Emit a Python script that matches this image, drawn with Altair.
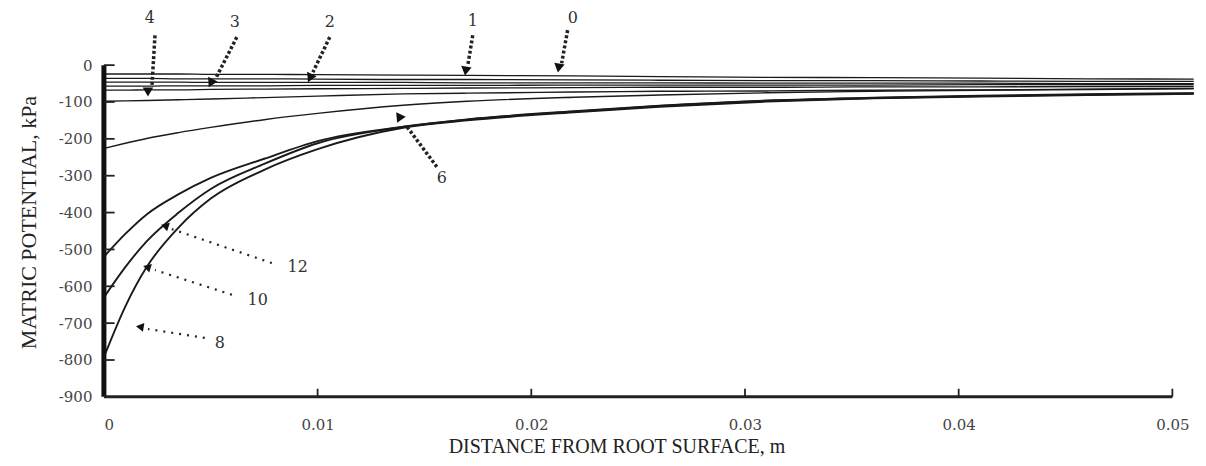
import altair as alt
import pandas as pd

# ---------------- data ----------------
x_vals = [0, 0.001, 0.002, 0.0035, 0.005, 0.0075, 0.01, 0.014, 0.017, 0.022,
          0.026, 0.031, 0.036, 0.041, 0.046, 0.051]

curve_0 = [-24, -24, -24, -24, -25, -25, -26, -27, -28, -29, -31, -33, -34, -35, -37, -38]
curve_1 = [-36, -36, -36, -37, -37, -37, -38, -39, -39, -40, -41, -42, -42, -43, -44, -44]
curve_2 = [-46, -46, -46, -46, -47, -47, -47, -47, -48, -48, -48, -49, -49, -49, -50, -50]
curve_3 = [-57, -57, -57, -56, -56, -56, -55, -55, -55, -54, -54, -54, -54, -53, -53, -53]
curve_3b = [-68, -68, -67, -67, -66, -65, -64, -63, -62, -61, -60, -60, -59, -59, -58, -58]
curve_4 = [-98, -97, -96, -94, -92, -88, -84, -78, -76, -73, -71, -70, -68, -67, -65, -63]
curve_6 = [-226, -212, -199, -183, -169, -148, -131, -109, -98, -87, -81, -75, -71, -68, -66, -64]
curve_8 = [-792, -655, -548, -440, -362, -284, -228, -170, -150, -128, -113, -99, -90, -85, -81, -78]
curve_10 = [-630, -548, -478, -400, -336, -268, -212, -168, -148, -126, -111, -97, -89, -84, -80, -77]
curve_12 = [-520, -458, -405, -350, -306, -254, -206, -167, -147, -125, -110, -96, -88, -83, -79, -76]

series_names = ["0", "1", "2", "3", "3b", "4", "6", "8", "10", "12"]
series_values = [curve_0, curve_1, curve_2, curve_3, curve_3b, curve_4,
                 curve_6, curve_8, curve_10, curve_12]
series_width = [1.3, 1.3, 1.3, 1.3, 1.3, 1.4, 1.4, 1.9, 1.9, 1.9]

x_ticks = [0, 0.01, 0.02, 0.03, 0.04, 0.05]
y_ticks = [-900, -800, -700, -600, -500, -400, -300, -200, -100, 0]

# annotation labels and dotted arrows (data units)
label_text = ["4", "3", "2", "1", "0", "6", "12", "10", "8"]
label_x = [0.00215, 0.00613, 0.01057, 0.01726, 0.02194, 0.01581, 0.00907, 0.0072, 0.00543]
label_y = [127, 117, 117, 119, 128, -306, -548, -637, -754]

arrow_x1 = [0.00239, 0.00622, 0.01057, 0.01726, 0.02170, 0.01558, 0.00786, 0.00599, 0.00472]
arrow_y1 = [81, 76, 76, 81, 95, -276, -537, -623, -740]
arrow_x2 = [0.00225, 0.00524, 0.00978, 0.01703, 0.02142, 0.01413, 0.00318, 0.00239, 0.00206]
arrow_y2 = [-54, -35, -19, 0, 5, -163, -445, -556, -716]
head_x = [0.00206, 0.0050, 0.00964, 0.01693, 0.02128, 0.0138, 0.00285, 0.00201, 0.00168]
head_y = [-73, -49, -35, -16, -8, -138, -436, -548, -710]
head_angle = [180, 207, 205, 189, 190, 325, 288, 287, 279]
arrow_bold = [True, True, True, True, True, True, False, False, False]

# ---------------- tables ----------------
rows = []
for name, vals, w in zip(series_names, series_values, series_width):
    for xv, yv in zip(x_vals, vals):
        rows.append({"series": name, "x": xv, "y": yv, "w": w})
df = pd.DataFrame(rows)

labels_df = pd.DataFrame({"t": label_text, "x": label_x, "y": label_y})
arrows_df = pd.DataFrame({"x1": arrow_x1, "y1": arrow_y1, "x2": arrow_x2, "y2": arrow_y2,
                          "hx": head_x, "hy": head_y, "ang": head_angle, "bold": arrow_bold})
bold_df = arrows_df[arrows_df["bold"]]
thin_df = arrows_df[~arrows_df["bold"]]

ytick_df = pd.DataFrame({"v": y_ticks[1:]})
xtick_df = pd.DataFrame({"v": x_ticks[1:]})
yaxis_df = pd.DataFrame({"x": [0], "y": [y_ticks[0]], "y2": [y_ticks[-1]]})
xaxis_df = pd.DataFrame({"x": [x_ticks[0]], "x2": [x_ticks[-1]], "y": [y_ticks[0]]})

XDOM = [0, 0.0512]
YDOM = [-900, 0]
xs = alt.Scale(domain=XDOM, nice=False, zero=False)
ys = alt.Scale(domain=YDOM, nice=False, zero=False)

LAB_FONT = "DejaVu Serif"
TITLE_FONT = "Liberation Serif"
INK = "#1a1a1a"

x_axis = alt.Axis(values=x_ticks, format="~g", domain=False, ticks=False, grid=False,
                  labelFont=LAB_FONT, labelFontSize=15, labelColor="#444", labelPadding=21,
                  title="DISTANCE FROM ROOT SURFACE, m", titleFont=TITLE_FONT, titleFontSize=20,
                  titleFontWeight="normal", titleColor="#222", titleX=513, titleY=56,
                  titleAlign="center", titleBaseline="alphabetic")
y_axis = alt.Axis(values=y_ticks, labelExpr="toString(datum.value)",
                  domain=False, ticks=False, grid=False,
                  labelFont=LAB_FONT, labelFontSize=15, labelColor="#444", labelPadding=12,
                  title="MATRIC POTENTIAL, kPa", titleFont=TITLE_FONT, titleFontSize=22,
                  titleFontWeight="normal", titleColor="#222", titleAngle=270,
                  titleX=-68, titleY=157, titleAlign="center", titleBaseline="alphabetic")


def X(field):
    return alt.X(field, scale=xs, axis=x_axis, title="DISTANCE FROM ROOT SURFACE, m")


def Y(field):
    return alt.Y(field, scale=ys, axis=y_axis, title="MATRIC POTENTIAL, kPa")


lines = alt.Chart(df).mark_line(interpolate="monotone", color=INK).encode(
    x=X("x:Q"),
    y=Y("y:Q"),
    detail="series:N",
    strokeWidth=alt.StrokeWidth("w:Q", scale=None, legend=None),
)

y_axis_line = alt.Chart(yaxis_df).mark_rule(color="#111", strokeWidth=5).encode(
    x=X("x:Q"), y=Y("y:Q"), y2="y2:Q",
)
x_axis_line = alt.Chart(xaxis_df).mark_rule(color="#222", strokeWidth=3).encode(
    x=X("x:Q"), x2="x2:Q", y=Y("y:Q"),
)
y_tick_marks = alt.Chart(ytick_df).transform_calculate(x0="0", x1="0.0005").mark_rule(
    color="#222", strokeWidth=1.8).encode(
    x=X("x0:Q"), x2="x1:Q", y=Y("v:Q"),
)
x_tick_marks = alt.Chart(xtick_df).transform_calculate(y0="-900", y1="-878").mark_rule(
    color="#222", strokeWidth=1.8).encode(
    x=X("v:Q"), y=Y("y0:Q"), y2="y1:Q",
)

bold_shafts = alt.Chart(bold_df).mark_rule(color="#222", strokeWidth=3.5,
                                           strokeDash=[3, 2.2]).encode(
    x=X("x1:Q"), y=Y("y1:Q"), x2="x2:Q", y2="y2:Q",
)
thin_shafts = alt.Chart(thin_df).mark_rule(color="#222", strokeWidth=2.2,
                                           strokeDash=[2, 6]).encode(
    x=X("x1:Q"), y=Y("y1:Q"), x2="x2:Q", y2="y2:Q",
)
bold_heads = alt.Chart(bold_df).mark_point(shape="triangle-up", filled=True, color="#111",
                                           size=110, opacity=1).encode(
    x=X("hx:Q"), y=Y("hy:Q"), angle=alt.Angle("ang:Q", scale=None),
)
thin_heads = alt.Chart(thin_df).mark_point(shape="triangle-up", filled=True, color="#111",
                                           size=80, opacity=1).encode(
    x=X("hx:Q"), y=Y("hy:Q"), angle=alt.Angle("ang:Q", scale=None),
)
labels = alt.Chart(labels_df).mark_text(font=LAB_FONT, fontSize=16, color="#333",
                                        align="center", baseline="middle").encode(
    x=X("x:Q"), y=Y("y:Q"), text="t:N",
)

chart = alt.layer(
    lines, y_axis_line, x_axis_line, y_tick_marks, x_tick_marks,
    bold_shafts, thin_shafts, bold_heads, thin_heads, labels,
).properties(
    width=1095, height=332,
    padding={"left": 96, "top": 57, "right": 0, "bottom": 61},
    autosize=alt.AutoSizeParams(type="none"),
    background="white",
).configure_view(stroke=None)

chart.save("out.html", embed_options={"renderer": "svg", "actions": False})
